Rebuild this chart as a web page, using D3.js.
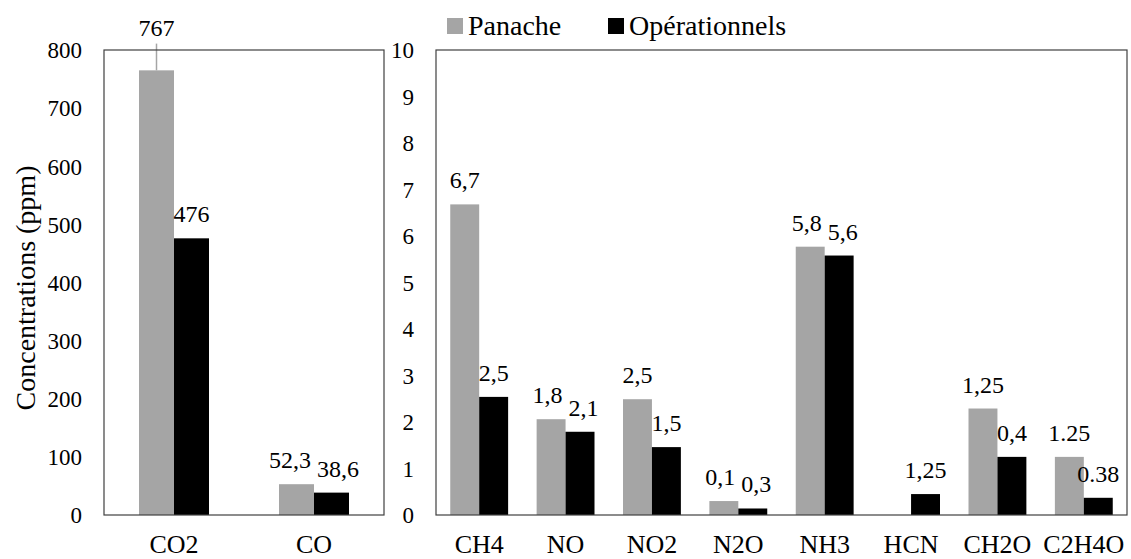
<!DOCTYPE html>
<html><head><meta charset="utf-8">
<script src="https://cdn.jsdelivr.net/npm/d3@7"></script>
</head>
<body style="margin:0">
<svg id="viz" width="1131" height="559"></svg>
<script>
// ---- data ----
const seriesNames = ["Panache", "Opérationnels"];

const leftCategories = ["CO2", "CO"];
const leftPanache = [765, 53];
const leftOperationnels = [476, 38.5];
const leftPanacheLabels = ["767", "52,3"];
const leftOperationnelsLabels = ["476", "38,6"];
const leftPanacheErrors = [46, 0];
const leftTicks = [0, 100, 200, 300, 400, 500, 600, 700, 800];

const rightCategories = ["CH4", "NO", "NO2", "N2O", "NH3", "HCN", "CH2O", "C2H4O"];
const rightPanache = [6.68, 2.06, 2.49, 0.3, 5.77, 0, 2.29, 1.25];
const rightOperationnels = [2.54, 1.79, 1.46, 0.14, 5.58, 0.45, 1.25, 0.37];
const rightPanacheLabels = ["6,7", "1,8", "2,5", "0,1", "5,8", "", "1,25", "1.25"];
const rightOperationnelsLabels = ["2,5", "2,1", "1,5", "0,3", "5,6", "1,25", "0,4", "0.38"];
const rightTicks = [0, 1, 2, 3, 4, 5, 6, 7, 8, 9, 10];

const yTitle = "Concentrations (ppm)";

// ---- styles ----
const FONT = "Liberation Serif";
const colors = { "Panache": "#a5a5a5", "Opérationnels": "#000000" };
const frameColor = "#404040";
const LABEL_SIZE = 24;

const svg = d3.select("#viz");
svg.append("rect").attr("width", 1131).attr("height", 559).attr("fill", "#fff");

function estWidth(s, size) {
  let w = 0;
  for (const ch of s) w += (ch === "," || ch === ".") ? 0.25 : 0.5;
  return w * size;
}

function panel(cfg) {
  const { x0, x1, y0, y1, cats, pan, op, panL, opL, err, ticks, max, groupFrac } = cfg;
  const x = d3.scaleBand().domain(cats).range([x0, x1]).padding(0);
  const bw = x.bandwidth();
  const xs = d3.scaleBand().domain(seriesNames)
    .range([bw * (1 - groupFrac) / 2, bw * (1 + groupFrac) / 2]).padding(0);
  const y = d3.scaleLinear().domain([0, max]).range([y1, y0]);

  const g = svg.append("g");

  // y tick labels (no tick lines)
  const yAxis = d3.axisLeft(y).tickValues(ticks).tickSize(0).tickPadding(0)
    .tickFormat(d3.format("d"));
  const ya = g.append("g").attr("transform", `translate(${x0 - 22},0)`).call(yAxis);
  ya.attr("font-family", FONT).attr("font-size", 23);
  ya.select(".domain").remove();
  ya.selectAll("text").attr("font-family", FONT).attr("font-size", 23)
    .attr("dy", "0.34em").attr("fill", "#000");

  const data = cats.map((c, i) => {
    const vals = [
      { s: "Panache", v: pan[i], lab: panL[i], e: err ? err[i] : 0 },
      { s: "Opérationnels", v: op[i], lab: opL[i], e: 0 }
    ];
    vals.forEach(d => {
      d.lx = xs(d.s) + xs.bandwidth() / 2;
      d.ly = d.e > 0 ? y(d.v + d.e) - 8 : y(d.v) - 16;
    });
    // nudge the two labels apart when they collide
    const [a, b] = vals;
    if (a.lab && b.lab && Math.abs(a.ly - b.ly) < LABEL_SIZE * 0.6) {
      const ov = (a.lx + estWidth(a.lab, LABEL_SIZE) / 2 + 6) - (b.lx - estWidth(b.lab, LABEL_SIZE) / 2);
      if (ov > 0) { a.lx -= ov / 2; b.lx += ov / 2; }
    }
    return { c, i, vals };
  });

  const groups = g.selectAll(".grp").data(data).join("g")
    .attr("transform", d => `translate(${x(d.c)},0)`);

  groups.selectAll("rect").data(d => d.vals).join("rect")
    .attr("x", d => xs(d.s))
    .attr("width", xs.bandwidth())
    .attr("y", d => y(d.v))
    .attr("height", d => y(0) - y(d.v))
    .attr("fill", d => colors[d.s]);

  // error bars
  groups.selectAll("line.err").data(d => d.vals.filter(v => v.e > 0)).join("line")
    .attr("class", "err")
    .attr("x1", d => xs(d.s) + xs.bandwidth() / 2)
    .attr("x2", d => xs(d.s) + xs.bandwidth() / 2)
    .attr("y1", d => y(d.v))
    .attr("y2", d => y(d.v + d.e))
    .attr("stroke", "#a5a5a5").attr("stroke-width", 1.5);

  // data labels
  groups.selectAll("text.lab").data(d => d.vals.filter(v => v.lab)).join("text")
    .attr("class", "lab")
    .attr("x", d => d.lx)
    .attr("y", d => d.ly)
    .attr("text-anchor", "middle")
    .attr("font-family", FONT)
    .attr("font-size", LABEL_SIZE)
    .text(d => d.lab);

  // frame
  g.append("rect").attr("x", x0).attr("y", y0).attr("width", x1 - x0).attr("height", y1 - y0)
    .attr("fill", "none").attr("stroke", frameColor).attr("stroke-width", 1.2);

  // category labels
  const xAxis = d3.axisBottom(x).tickSize(0).tickPadding(0);
  const xa = g.append("g").attr("transform", `translate(0,${y1 + 38})`).call(xAxis);
  xa.attr("font-family", FONT).attr("font-size", 26);
  xa.select(".domain").remove();
  xa.selectAll("text").attr("font-family", FONT).attr("font-size", 26)
    .attr("dy", 0).attr("fill", "#000");
}

panel({ x0: 104, x1: 384, y0: 50, y1: 515, cats: leftCategories, pan: leftPanache, op: leftOperationnels,
  panL: leftPanacheLabels, opL: leftOperationnelsLabels, err: leftPanacheErrors, ticks: leftTicks, max: 800, groupFrac: 0.5 });

panel({ x0: 436, x1: 1127, y0: 50, y1: 515, cats: rightCategories, pan: rightPanache, op: rightOperationnels,
  panL: rightPanacheLabels, opL: rightOperationnelsLabels, err: null, ticks: rightTicks, max: 10, groupFrac: 0.67 });

// y title
svg.append("text")
  .attr("transform", "translate(35,288) rotate(-90)")
  .attr("text-anchor", "middle")
  .attr("font-family", FONT)
  .attr("font-size", 28)
  .text(yTitle);

// legend
const legX = [447, 608];
const leg = svg.append("g");
seriesNames.forEach((s, i) => {
  leg.append("rect").attr("x", legX[i]).attr("y", 18).attr("width", 16).attr("height", 16).attr("fill", colors[s]);
  leg.append("text").attr("x", legX[i] + 21).attr("y", 35)
    .attr("font-family", FONT).attr("font-size", 28).text(s);
});
</script>
</body></html>
